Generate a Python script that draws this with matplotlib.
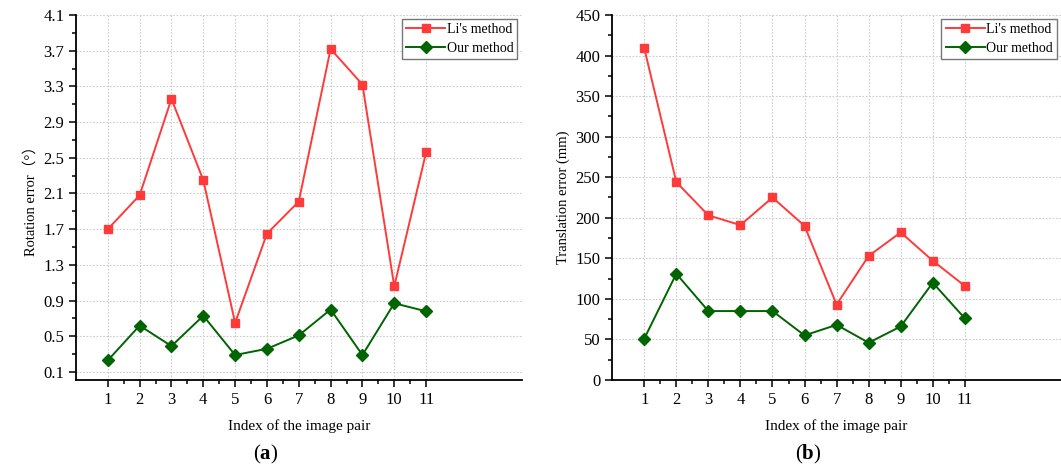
import numpy as np
import matplotlib
matplotlib.use('Agg')
import matplotlib.pyplot as plt
from matplotlib.ticker import MultipleLocator, FixedLocator

plt.rcParams['font.family'] = ['Liberation Serif', 'Noto Sans CJK SC']
plt.rcParams['mathtext.fontset'] = 'custom'
plt.rcParams['mathtext.rm'] = 'Liberation Serif'
plt.rcParams['mathtext.bf'] = 'Liberation Serif:bold'

pairs = np.arange(1, 12)

# rotation error (deg)
rot_li = [1.70, 2.08, 3.16, 2.25, 0.65, 1.65, 2.01, 3.72, 3.32, 1.06, 2.56]
rot_ours = [0.23, 0.62, 0.39, 0.73, 0.29, 0.36, 0.51, 0.80, 0.29, 0.87, 0.78]

# translation error (mm)
trans_li = [409, 244, 203, 191, 225, 190, 93, 153, 182, 147, 116]
trans_ours = [51, 131, 85, 85, 85, 55, 68, 46, 66, 120, 76]

red = '#ff3a3a'
green = '#006400'

fig = plt.figure(figsize=(10.61, 4.68), dpi=100)
ax1 = fig.add_axes([0.0716, 0.188, 0.42, 0.780])
ax2 = fig.add_axes([0.577, 0.188, 0.423, 0.780])


def style(ax, yl, ymin, ymax, ymajor, ylabel):
    ax.plot(pairs, yl[0], color=red, marker='s', ms=6, lw=1.4, label="Li's method")
    ax.plot(pairs, yl[1], color=green, marker='D', ms=6, lw=1.4, label='Our method')
    ax.set_xlim(0, 14)
    ax.set_ylim(ymin, ymax)
    ax.xaxis.set_major_locator(FixedLocator(pairs))
    ax.xaxis.set_minor_locator(FixedLocator(pairs[:-1] + 0.5))
    ax.yaxis.set_major_locator(ymajor[0])
    ax.yaxis.set_minor_locator(ymajor[1])
    ax.spines['top'].set_visible(False)
    ax.spines['right'].set_visible(False)
    ax.spines['left'].set_linewidth(1.3)
    ax.spines['bottom'].set_linewidth(1.3)
    ax.tick_params(which='major', direction='out', length=5, width=1.1, labelsize=12)
    ax.tick_params(which='minor', direction='out', length=3, width=1.1)
    ax.grid(True, which='major', ls=(0, (1.5, 1.5)), color='#cccccc', lw=0.8)
    ax.set_xlabel('Index of the image pair', fontsize=11, labelpad=8)
    ax.set_ylabel(ylabel, fontsize=10.5)
    leg = ax.legend(loc='upper right', fontsize=10, fancybox=False, framealpha=1,
                    edgecolor='#777777', borderpad=0.3, handlelength=2.8,
                    handletextpad=0.1, labelspacing=0.4, borderaxespad=0.3)
    leg.get_frame().set_linewidth(1.0)


rot_ticks = [0.1 + 0.4 * i for i in range(11)]
style(ax1, (rot_li, rot_ours), 0.01, 4.1,
      (FixedLocator(rot_ticks), FixedLocator([t + 0.2 for t in rot_ticks[:-1]])),
      'Rotation error（°）')
ax1.set_yticklabels([f'{t:.1f}' for t in rot_ticks])

style(ax2, (trans_li, trans_ours), 0, 450,
      (MultipleLocator(50), MultipleLocator(25)),
      'Translation error (mm)')

fig.text(0.25, 0.018, r'($\mathbf{a}$)', ha='center', fontsize=15)
fig.text(0.762, 0.018, r'($\mathbf{b}$)', ha='center', fontsize=15)

fig.savefig('out.png', dpi=100)
